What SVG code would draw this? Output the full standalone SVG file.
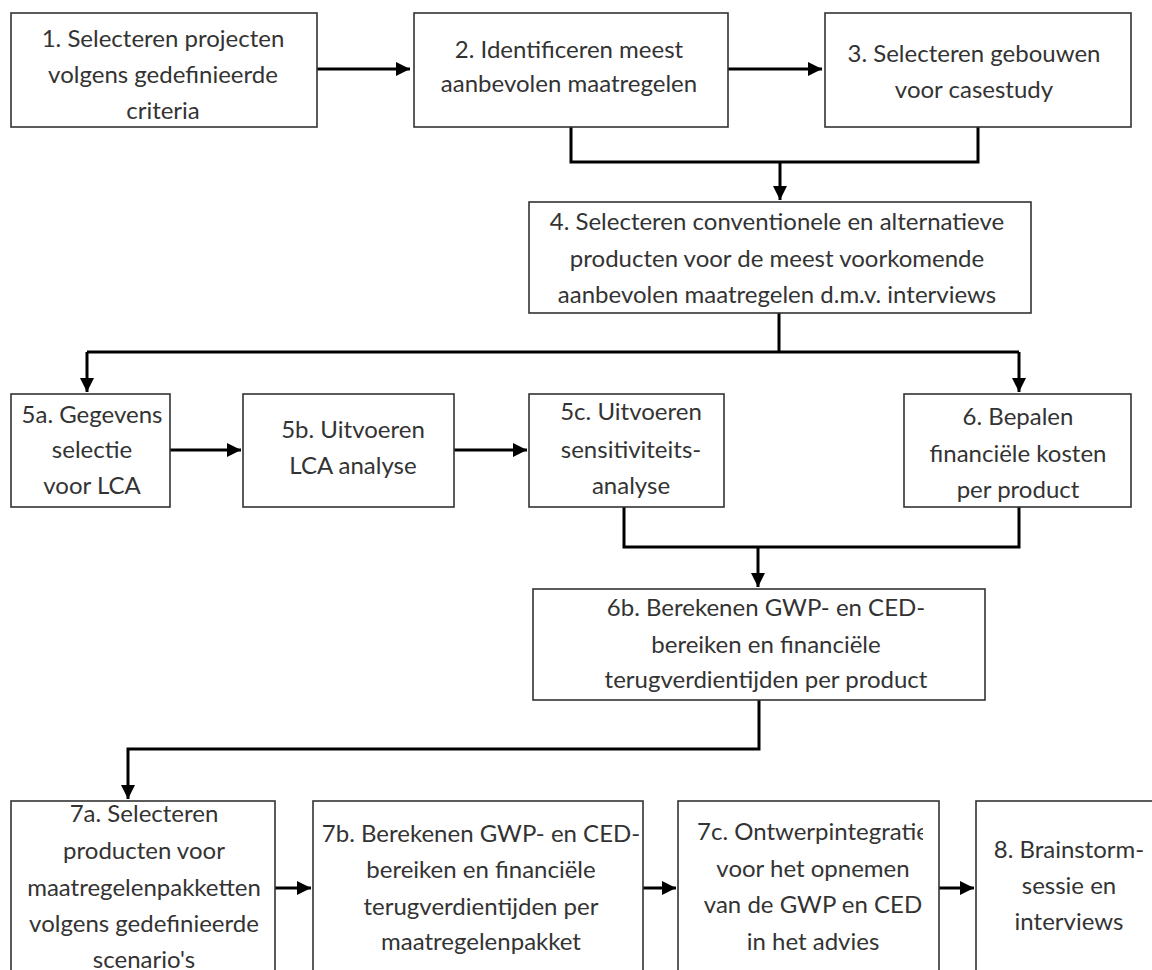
<svg xmlns="http://www.w3.org/2000/svg" width="1152" height="970" viewBox="0 0 1152 970">
<style>
.box{fill:#fff;stroke:#333;stroke-width:1.6}
.t{font-family:Lato,"Open Sans","Liberation Sans",sans-serif;font-size:24px;fill:#333;text-anchor:middle}
.c{fill:none;stroke:#000;stroke-width:3}
.a{marker-end:url(#ah)}
</style>
<defs>
<marker id="ah" viewBox="0 0 14 14" refX="14" refY="7" markerWidth="14" markerHeight="14" markerUnits="userSpaceOnUse" orient="auto">
<path d="M0,0 L14,7 L0,14 Z" fill="#000"/>
</marker>
<clipPath id="clip7c"><rect x="678" y="801" width="245" height="170"/></clipPath>
</defs>
<rect width="1152" height="970" fill="#fff"/>
<g id="connectors">
<path class="c a" d="M317 69 H410"/>
<path class="c a" d="M728 69 H822"/>
<path class="c" d="M571 127 V162 H978 V127"/>
<path class="c a" d="M780 162 V200"/>
<path class="c" d="M779 313 V352 M87 352 H1019"/>
<path class="c a" d="M87 352 V392"/>
<path class="c a" d="M1019 352 V392"/>
<path class="c a" d="M170 450 H241"/>
<path class="c a" d="M454 450 H527"/>
<path class="c" d="M624 507 V547 H1019 V507"/>
<path class="c a" d="M758 547 V587"/>
<path class="c a" d="M759 700 V749 H128 V799"/>
<path class="c a" d="M275 888 H311"/>
<path class="c a" d="M643 888 H676"/>
<path class="c a" d="M939 888 H974"/>
</g>
<g id="n1"><rect class="box" x="11" y="13" width="306" height="114"/>
<text class="t" x="163" y="47">1. Selecteren projecten</text><text class="t" x="163" y="83">volgens gedefinieerde</text><text class="t" x="163" y="119">criteria</text></g>
<g id="n2"><rect class="box" x="414" y="13" width="314" height="114"/>
<text class="t" x="569" y="58">2. Identificeren meest</text><text class="t" x="569" y="92">aanbevolen maatregelen</text></g>
<g id="n3"><rect class="box" x="825" y="13" width="306" height="114"/>
<text class="t" x="974" y="62">3. Selecteren gebouwen</text><text class="t" x="974" y="98">voor casestudy</text></g>
<g id="n4"><rect class="box" x="529" y="202" width="502" height="111"/>
<text class="t" x="777" y="230">4. Selecteren conventionele en alternatieve</text><text class="t" x="777" y="267">producten voor de meest voorkomende</text><text class="t" x="777" y="303">aanbevolen maatregelen d.m.v. interviews</text></g>
<g id="n5a"><rect class="box" x="11" y="394" width="159" height="113"/>
<text class="t" x="92" y="423">5a. Gegevens</text><text class="t" x="92" y="458">selectie</text><text class="t" x="92" y="494">voor LCA</text></g>
<g id="n5b"><rect class="box" x="243" y="394" width="211" height="113"/>
<text class="t" x="353" y="438">5b. Uitvoeren</text><text class="t" x="353" y="474">LCA analyse</text></g>
<g id="n5c"><rect class="box" x="529" y="394" width="195" height="113"/>
<text class="t" x="631" y="420">5c. Uitvoeren</text><text class="t" x="631" y="458">sensitiviteits-</text><text class="t" x="631" y="494">analyse</text></g>
<g id="n6"><rect class="box" x="904" y="394" width="227" height="113"/>
<text class="t" x="1018" y="425">6. Bepalen</text><text class="t" x="1018" y="462">financiële kosten</text><text class="t" x="1018" y="498">per product</text></g>
<g id="n6b"><rect class="box" x="533" y="589" width="452" height="111"/>
<text class="t" x="766" y="616">6b. Berekenen GWP- en CED-</text><text class="t" x="766" y="653">bereiken en financiële</text><text class="t" x="766" y="688">terugverdientijden per product</text></g>
<g id="n7a"><rect class="box" x="11" y="801" width="264" height="190"/>
<text class="t" x="144" y="822">7a. Selecteren</text><text class="t" x="144" y="859">producten voor</text><text class="t" x="144" y="896">maatregelenpakketten</text><text class="t" x="144" y="932">volgens gedefinieerde</text><text class="t" x="144" y="968">scenario's</text></g>
<g id="n7b"><rect class="box" x="313" y="801" width="330" height="190"/>
<text class="t" x="481" y="842">7b. Berekenen GWP- en CED-</text><text class="t" x="481" y="878">bereiken en financiële</text><text class="t" x="481" y="915">terugverdientijden per</text><text class="t" x="481" y="950">maatregelenpakket</text></g>
<g id="n7c"><rect class="box" x="678" y="801" width="261" height="190"/>
<text class="t" x="813" y="840" clip-path="url(#clip7c)">7c. Ontwerpintegratie</text><text class="t" x="813" y="877">voor het opnemen</text><text class="t" x="813" y="913">van de GWP en CED</text><text class="t" x="813" y="950">in het advies</text></g>
<g id="n8"><rect class="box" x="976" y="801" width="200" height="190"/>
<text class="t" x="1069" y="858">8. Brainstorm-</text><text class="t" x="1069" y="894">sessie en</text><text class="t" x="1069" y="930">interviews</text></g>
</svg>
